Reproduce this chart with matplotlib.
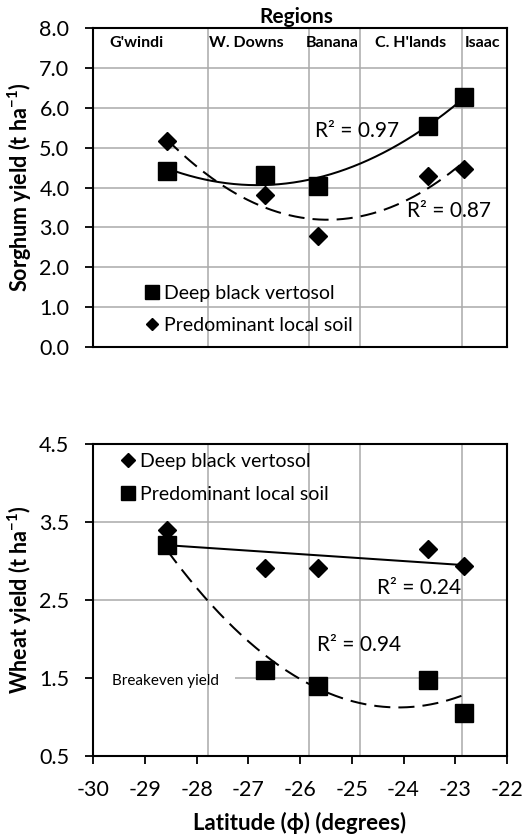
import numpy as np
import matplotlib
matplotlib.use("Agg")
import matplotlib.pyplot as plt
from matplotlib.lines import Line2D

plt.rcParams['font.family'] = ['Lato', 'DejaVu Sans']
plt.rcParams['mathtext.fontset'] = 'custom'
plt.rcParams['mathtext.rm'] = 'Lato'
plt.rcParams['mathtext.bf'] = 'Lato:bold'

# ---- data ----
latitude = [-28.57, -26.67, -25.65, -23.53, -22.84]
regions = ["G'windi", "W. Downs", "Banana", "C. H'lands", "Isaac"]
region_label_x = [-29.15, -27.04, -25.38, -23.86, -22.48]
region_lines = [-27.78, -25.83, -24.84, -22.87]

sorghum_deep = [4.42, 4.31, 4.03, 5.54, 6.27]
sorghum_local = [5.16, 3.80, 2.79, 4.30, 4.46]
wheat_deep = [3.40, 2.91, 2.91, 3.16, 2.94]
wheat_local = [3.21, 1.60, 1.40, 1.47, 1.05]

r2_sorghum = ["0.97", "0.87"]
r2_wheat = ["0.24", "0.94"]

W, H = 522, 839
fig = plt.figure(figsize=(W / 100, H / 100), dpi=100)

def px_axes(l, t, r, b):
    return fig.add_axes([l / W, 1 - b / H, (r - l) / W, (b - t) / H])

ax1 = px_axes(93, 28, 507, 347)
ax2 = px_axes(93, 444, 507, 756)

grid_c = '#aaaaaa'
dash = (0, (8, 4))
TICK_FS = 15.5
LAB_FS = 15.5

def style(ax, ylim, yticks):
    ax.set_xlim(-30, -22)
    ax.set_ylim(*ylim)
    ax.set_yticks(yticks)
    ax.yaxis.grid(True, color=grid_c, lw=1.1, zorder=0)
    for xv in region_lines:
        ax.axvline(xv, color=grid_c, lw=1.1, zorder=0)
    for s in ax.spines.values():
        s.set_linewidth(1.5)
    ax.tick_params(axis='y', direction='out', length=6, width=1.3, labelsize=TICK_FS, pad=11)
    ax.set_axisbelow(True)

def trend(ax, x, y, deg, ls):
    c = np.polyfit(x, y, deg)
    xs = np.linspace(min(x), max(x), 200)
    ax.plot(xs, np.polyval(c, xs), color='black', lw=1.45, ls=ls, zorder=2)

# ---- top: sorghum ----
style(ax1, (0, 8), np.arange(0, 8.01, 1.0))
ax1.set_yticklabels([f"{v:.1f}" for v in np.arange(0, 8.01, 1.0)])
ax1.tick_params(axis='x', length=0, labelbottom=False)
trend(ax1, latitude, sorghum_deep, 2, '-')
trend(ax1, latitude, sorghum_local, 2, dash)
ax1.plot(latitude, sorghum_deep, 's', color='black', ms=13, ls='none', zorder=3)
ax1.plot(latitude, sorghum_local, 'D', color='black', ms=9.3, ls='none', zorder=3)
for name, xv in zip(regions, region_label_x):
    ax1.text(xv, 7.62, name, ha='center', va='center', fontsize=11.5, fontweight='bold')
fig.text(296 / W, 1 - 17 / H, "Regions", ha='center', va='center', fontsize=15, fontweight='bold')
ax1.text(-24.90, 5.41, "R² = " + r2_sorghum[0], ha='center', va='center', fontsize=15)
ax1.text(-23.12, 3.41, "R² = " + r2_sorghum[1], ha='center', va='center', fontsize=15)
ax1.set_ylabel(r"Sorghum yield (t ha$^{\mathbf{-1}}$)", fontsize=LAB_FS, fontweight='bold', labelpad=4)
h1 = [Line2D([], [], marker='s', color='black', ls='none', ms=10),
      Line2D([], [], marker='D', color='black', ls='none', ms=6.5)]
ax1.legend(h1, ["Deep black vertosol", "Predominant local soil"], loc='lower left',
           bbox_to_anchor=(0.121, 0.04), frameon=False, fontsize=14,
           handlelength=0.9, handletextpad=0.2, labelspacing=0.8, borderaxespad=0, borderpad=0)

# ---- bottom: wheat ----
style(ax2, (0.5, 4.5), np.arange(0.5, 4.51, 1.0))
ax2.set_yticklabels([f"{v:.1f}" for v in np.arange(0.5, 4.51, 1.0)])
ax2.set_xticks(np.arange(-30, -21.9, 1))
ax2.set_xticklabels([str(v) for v in range(-30, -21)])
ax2.tick_params(axis='x', direction='out', length=6, width=1.3, labelsize=TICK_FS, pad=11)
trend(ax2, latitude, wheat_deep, 1, '-')
trend(ax2, latitude, wheat_local, 2, dash)
ax2.plot(latitude, wheat_deep, 'D', color='black', ms=9.5, ls='none', zorder=3)
ax2.plot(latitude, wheat_local, 's', color='black', ms=13, ls='none', zorder=3)
ax2.text(-23.69, 2.65, "R² = " + r2_wheat[0], ha='center', va='center', fontsize=15)
ax2.text(-24.86, 1.92, "R² = " + r2_wheat[1], ha='center', va='center', fontsize=15)
ax2.fill_between([-29.98, -27.25], 1.46, 1.54, color='white', zorder=1, lw=0)
ax2.text(-28.60, 1.46, "Breakeven yield", ha='center', va='center', fontsize=11, zorder=2)
ax2.set_ylabel(r"Wheat yield (t ha$^{\mathbf{-1}}$)", fontsize=LAB_FS, fontweight='bold', labelpad=4)
ax2.set_xlabel("Latitude (ϕ) (degrees)", fontsize=16, fontweight='bold', labelpad=9)
h2 = [Line2D([], [], marker='D', color='black', ls='none', ms=7),
      Line2D([], [], marker='s', color='black', ls='none', ms=10)]
ax2.legend(h2, ["Deep black vertosol", "Predominant local soil"], loc='upper left',
           bbox_to_anchor=(0.063, 0.971), frameon=False, fontsize=14,
           handlelength=0.9, handletextpad=0.2, labelspacing=0.8, borderaxespad=0, borderpad=0)

fig.savefig("out.png", dpi=100)
